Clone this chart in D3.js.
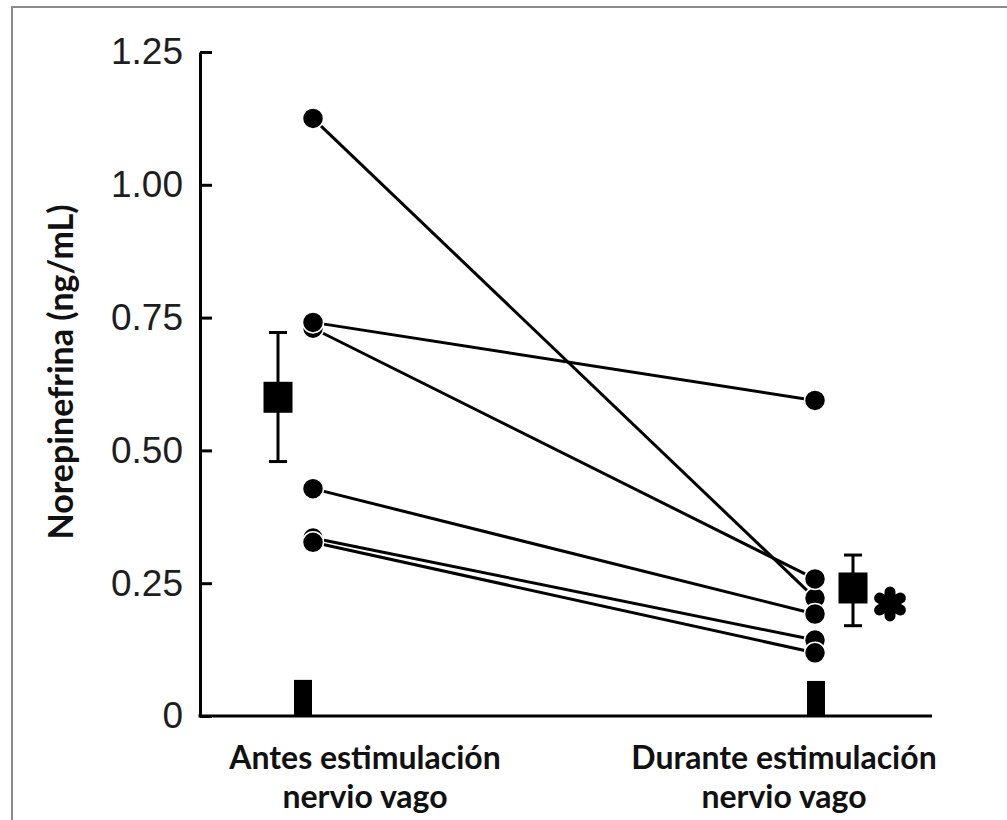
<!DOCTYPE html>
<html>
<head>
<meta charset="utf-8">
<script src="https://cdn.jsdelivr.net/npm/d3@7"></script>
<style>
  html, body { margin: 0; padding: 0; background: #fff; }
  svg { display: block; }
</style>
</head>
<body>
<div id="chart"></div>
<script>
const WIDTH = 1007
const HEIGHT = 820

// datos (cada sujeto: antes -> durante)
const categories = ['Antes', 'Durante']
const catLines = [['Antes estimulación', 'nervio vago'], ['Durante estimulación', 'nervio vago']]
const antes = [1.125, 0.730, 0.335, 0.741, 0.428, 0.327]
const durante = [0.222, 0.258, 0.143, 0.594, 0.192, 0.119]
const means = [0.600, 0.241]
const errHigh = [0.722, 0.303]
const errLow = [0.479, 0.170]
const baseBars = [0.068, 0.066]
const yTicks = [0, 0.25, 0.5, 0.75, 1.0, 1.25]

const svg = d3.select('#chart').append('svg').attr('width', WIDTH).attr('height', HEIGHT)

// marco gris
svg.append('rect')
    .attr('x', 12).attr('y', 7)
    .attr('width', 1100).attr('height', 1000)
    .attr('fill', 'none').attr('stroke', '#8a8a8a').attr('stroke-width', 2)

const yScale = d3.scaleLinear().domain([0, 1.25]).range([716, 52])
const xScale = d3.scalePoint().domain(categories).range([313, 815])

const MEAN_OFF = [-35, 38] // la media va al lado de los puntos
const AXIS_X = 200

// eje Y
const axisY = d3.axisLeft(yScale)
    .tickValues(yTicks)
    .tickSizeInner(-12)
    .tickSizeOuter(0)
    .tickPadding(17)
    .tickFormat(d => d === 0 ? '0' : d.toFixed(2))

const gy = svg.append('g')
    .attr('transform', `translate(${AXIS_X}, 0)`)
    .call(axisY)
gy.select('.domain').attr('stroke', '#000').attr('stroke-width', 3)
gy.selectAll('.tick line').attr('stroke', '#000').attr('stroke-width', 3)
gy.selectAll('.tick text')
    .attr('font-family', 'Liberation Sans, Arial, sans-serif')
    .attr('font-size', 37)
    .attr('fill', '#1e1e1e')

// linea base
svg.append('line')
    .attr('x1', AXIS_X - 1.5).attr('x2', 932)
    .attr('y1', yScale(0)).attr('y2', yScale(0))
    .attr('stroke', '#000').attr('stroke-width', 3)

// barritas en la base
svg.selectAll('rect.base')
    .data(baseBars)
    .enter()
    .append('rect')
    .attr('class', 'base')
    .attr('x', (d, i) => xScale(categories[i]) - (i === 0 ? 19 : 8))
    .attr('width', 18)
    .attr('y', d => yScale(d))
    .attr('height', d => yScale(0) - yScale(d))
    .attr('fill', '#000')

// lineas por sujeto
svg.selectAll('line.pair')
    .data(antes)
    .enter()
    .append('line')
    .attr('class', 'pair')
    .attr('x1', xScale('Antes')).attr('y1', d => yScale(d))
    .attr('x2', xScale('Durante')).attr('y2', (d, i) => yScale(durante[i]))
    .attr('stroke', '#000').attr('stroke-width', 3)

// puntos
const drawDots = (vals, cat) => {
    svg.append('g').selectAll('circle')
        .data(vals)
        .enter()
        .append('circle')
        .attr('cx', xScale(cat))
        .attr('cy', d => yScale(d))
        .attr('r', 10.5)
        .attr('fill', '#000')
        .attr('stroke', '#fff')
        .attr('stroke-width', 1.5)
}
drawDots(antes, 'Antes')
drawDots(durante, 'Durante')

// media +- error
const mg = svg.append('g')
means.forEach((m, i) => {
    const cx = xScale(categories[i]) + MEAN_OFF[i]
    mg.append('line')
        .attr('x1', cx).attr('x2', cx)
        .attr('y1', yScale(errHigh[i])).attr('y2', yScale(errLow[i]))
        .attr('stroke', '#000').attr('stroke-width', 3)
    ;[errHigh[i], errLow[i]].forEach(v => {
        mg.append('line')
            .attr('x1', cx - 9).attr('x2', cx + 9)
            .attr('y1', yScale(v)).attr('y2', yScale(v))
            .attr('stroke', '#000').attr('stroke-width', 3)
    })
    mg.append('rect')
        .attr('x', cx - 14.5).attr('width', 29)
        .attr('y', yScale(m) - 15.5).attr('height', 31)
        .attr('fill', '#000')
})

// asterisco (diferencia significativa)
const ax = xScale('Durante') + MEAN_OFF[1] + 37
const ay = yScale(means[1]) + 16
const ast = svg.append('g').attr('transform', `translate(${ax}, ${ay})`)
;[90, 30, 150].forEach(a => {
    const r = a * Math.PI / 180
    ast.append('line')
        .attr('x1', -12 * Math.cos(r)).attr('y1', -12 * Math.sin(r))
        .attr('x2', 12 * Math.cos(r)).attr('y2', 12 * Math.sin(r))
        .attr('stroke', '#000').attr('stroke-width', 11)
        .attr('stroke-linecap', 'round')
})

// etiquetas del eje X
const labels = svg.append('g')
catLines.forEach((lines, i) => {
    const cx = i === 0 ? 365 : 784
    lines.forEach((t, j) => {
        labels.append('text')
            .attr('x', cx)
            .attr('y', 769 + j * 39)
            .attr('text-anchor', 'middle')
            .attr('font-family', 'Lato, Open Sans, sans-serif')
            .attr('font-weight', 'bold')
            .attr('font-size', 32)
            .attr('fill', '#111')
            .text(t)
    })
})

// titulo eje Y
svg.append('text')
    .attr('transform', 'translate(73, 372) rotate(-90)')
    .attr('text-anchor', 'middle')
    .attr('font-family', 'Lato, Open Sans, sans-serif')
    .attr('font-weight', 'bold')
    .attr('font-size', 34)
    .attr('fill', '#111')
    .text('Norepinefrina (ng/mL)')
</script>
</body>
</html>
